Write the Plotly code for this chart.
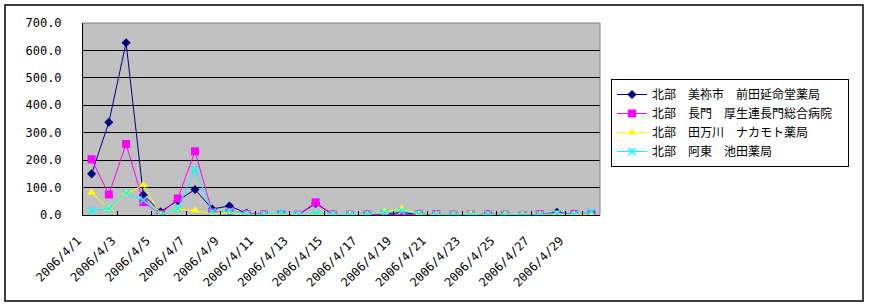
import plotly.graph_objects as go

dates = ["2006/4/1", "2006/4/2", "2006/4/3", "2006/4/4", "2006/4/5", "2006/4/6",
         "2006/4/7", "2006/4/8", "2006/4/9", "2006/4/10", "2006/4/11", "2006/4/12",
         "2006/4/13", "2006/4/14", "2006/4/15", "2006/4/16", "2006/4/17", "2006/4/18",
         "2006/4/19", "2006/4/20", "2006/4/21", "2006/4/22", "2006/4/23", "2006/4/24",
         "2006/4/25", "2006/4/26", "2006/4/27", "2006/4/28", "2006/4/29", "2006/4/30"]
tick_labels = ["2006/4/1", "2006/4/3", "2006/4/5", "2006/4/7", "2006/4/9", "2006/4/11",
               "2006/4/13", "2006/4/15", "2006/4/17", "2006/4/19", "2006/4/21",
               "2006/4/23", "2006/4/25", "2006/4/27", "2006/4/29"]

names = ["北部　美祢市　前田延命堂薬局", "北部　長門　厚生連長門総合病院",
         "北部　田万川　ナカモト薬局", "北部　阿東　池田薬局"]

mine = [150, 338, 628, 73, 12, 52, 93, 22, 33, 6, 2, 1, 1, 42, 2, 1, 2, 4, 8, 3,
        2, 1, 2, 3, 2, 1, 1, 10, 2, 1]
nagato = [203, 75, 259, 47, 3, 60, 232, 10, 12, 4, 2, 2, 1, 46, 2, 1, 2, 3, 0, 4,
          3, 1, 2, 2, 1, 0, 3, 2, 4, 3]
tamagawa = [81, 22, 77, 109, 2, 22, 16, 5, 10, 3, 2, 3, 2, 3, 2, 3, 2, 12, 22, 4,
            3, 2, 5, 2, 3, 3, 2, 4, 3, 2]
ato = [15, 24, 79, 55, 0, 24, 166, 10, 14, 3, 2, 8, 3, 5, 3, 2, 3, 8, 15, 4,
       2, 2, 2, 3, 2, 2, 2, 5, 3, 12]

series = [mine, nagato, tamagawa, ato]
colors = ["#000080", "#FF00FF", "#FFFF00", "#00FFFF"]
symbols = ["diamond", "square", "triangle-up", "x-thin"]
sizes = [7, 8, 8, 7]

fig = go.Figure()
for nm, vals, c, s, sz in zip(names, series, colors, symbols, sizes):
    fig.add_trace(go.Scatter(
        x=dates, y=vals, name=nm, mode="lines+markers",
        line=dict(color=c, width=1),
        marker=dict(symbol=s, size=sz, color=c, line=dict(color=c, width=1.5 if s == "x-thin" else 0)),
    ))

W, H = 869, 306
L, R, T, B = 83, 600, 23, 215
pw, ph = R - L, B - T

def px(x):
    return (x - L) / pw

def py(y):
    return (B - y) / ph

fig.update_layout(
    width=W, height=H,
    margin=dict(l=L, r=W - R, t=T, b=H - B, pad=0, autoexpand=False),
    paper_bgcolor="white", plot_bgcolor="#C0C0C0",
    showlegend=True,
    legend=dict(x=px(611), y=py(79), xanchor="left", yanchor="top",
                orientation="h", entrywidth=191, entrywidthmode="pixels",
                bgcolor="white", bordercolor="black", borderwidth=1,
                font=dict(family="Noto Sans CJK JP", size=12, color="black"),
                tracegroupgap=0, itemwidth=30),
    xaxis=dict(type="category", range=[-0.5, 29.5], tickmode="array",
               tickvals=tick_labels, ticktext=tick_labels, tickson="boundaries",
               ticks="inside", ticklen=4, tickcolor="black", tickwidth=1,
               showgrid=False, showline=True, linecolor="black", linewidth=1,
               tickangle=-45, ticklabelshift=-14, ticklabelstandoff=13,
               tickfont=dict(family="DejaVu Sans Mono", size=12, color="black"),
               zeroline=False, automargin=False),
    yaxis=dict(range=[0, 700], dtick=100, tickformat=".1f", ticks="",
               showgrid=True, gridcolor="black", gridwidth=1,
               showline=True, linecolor="black", linewidth=1, zeroline=False,
               ticklabelstandoff=18, automargin=False,
               tickfont=dict(family="DejaVu Sans Mono", size=12, color="black")),
    shapes=[
        dict(type="line", xref="paper", yref="paper", x0=0, x1=1, y0=1, y1=1,
             line=dict(color="#808080", width=1), layer="above"),
        dict(type="line", xref="paper", yref="paper", x0=1, x1=1, y0=0, y1=1,
             line=dict(color="#808080", width=1), layer="above"),
        dict(type="rect", xref="paper", yref="paper", x0=px(5), x1=px(863),
             y0=py(301), y1=py(5), line=dict(color="black", width=1.5)),
    ],
)

fig.write_html("out.html")
